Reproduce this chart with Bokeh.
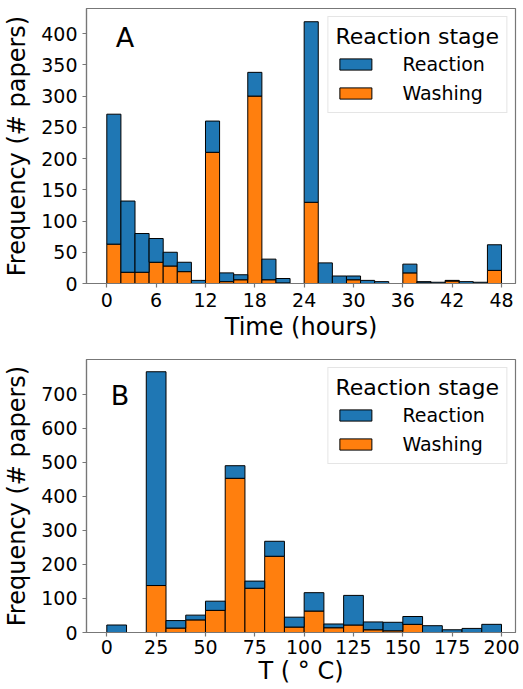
import numpy as np
from bokeh.plotting import figure
from bokeh.layouts import column
from bokeh.models import FixedTicker, Legend, LegendItem, Label
from bokeh.embed import file_html
from bokeh.resources import INLINE

# ---------------- data ----------------
# Panel A: reaction time (hours), 28 bins from 0 to 48
time_bin_min = 0
time_bin_max = 48
time_bin_count = 28
time_washing = [63, 18, 18, 34, 28, 19, 0, 210, 3, 6, 300, 6, 1, 0,
                130, 0, 0, 6, 0, 0, 0, 17, 1, 0, 4, 0, 0, 21]
time_reaction = [208, 114, 62, 38, 22, 15, 5, 50, 14, 8, 38, 33, 7, 0,
                 289, 33, 12, 6, 5, 3, 0, 14, 2, 2, 1, 3, 2, 41]
time_ticks = [0, 6, 12, 18, 24, 30, 36, 42, 48]
time_yticks = [0, 50, 100, 150, 200, 250, 300, 350, 400]

# Panel B: temperature (deg C), 20 bins from 0 to 200
temp_bin_min = 0
temp_bin_max = 200
temp_bin_count = 20
temp_washing = [0, 0, 138, 13, 37, 65, 453, 130, 224, 16,
                63, 14, 22, 8, 5, 24, 0, 0, 0, 0]
temp_reaction = [22, 0, 628, 22, 14, 27, 37, 21, 44, 29,
                 54, 11, 87, 23, 25, 23, 20, 8, 12, 24]
temp_ticks = [0, 25, 50, 75, 100, 125, 150, 175, 200]
temp_yticks = [0, 100, 200, 300, 400, 500, 600, 700]

series_names = ["Reaction", "Washing"]
BLUE = "#1f77b4"
ORANGE = "#ff7f0e"
FONT = "DejaVu Sans"
SPINE = "#777777"


def make_panel(edges_min, edges_max, nbins, washing, reaction, xr, yr,
               xticks, yticks, xlabel, letter, letter_xy, height,
               top_border, label_standoff, xlabel_standoff):
    edges = np.linspace(edges_min, edges_max, nbins + 1)
    wash = np.array(washing, dtype=float)
    reac = np.array(reaction, dtype=float)
    total = wash + reac

    p = figure(width=520, height=height, x_range=xr, y_range=yr,
               output_backend="svg", toolbar_location=None,
               min_border_left=86, min_border_right=5,
               min_border_top=top_border, min_border_bottom=10)
    p.xgrid.visible = False
    p.ygrid.visible = False
    p.outline_line_color = SPINE
    p.outline_line_width = 1.2
    p.background_fill_color = "white"
    p.border_fill_color = "white"

    r_w = p.quad(left=edges[:-1], right=edges[1:], bottom=0, top=wash,
                 fill_color=ORANGE, line_color="black", line_width=1)
    r_r = p.quad(left=edges[:-1], right=edges[1:], bottom=wash, top=total,
                 fill_color=BLUE, line_color="black", line_width=1)

    for ax in (p.xaxis[0], p.yaxis[0]):
        ax.axis_line_color = SPINE
        ax.axis_line_width = 1.2
        ax.major_tick_line_color = SPINE
        ax.major_tick_line_width = 1.2
        ax.major_tick_out = 4
        ax.major_tick_in = 0
        ax.minor_tick_line_color = None
        ax.major_label_text_font = FONT
        ax.major_label_text_font_size = "19px"
        ax.major_label_text_color = "black"
        ax.axis_label_text_font = FONT
        ax.axis_label_text_font_size = "24px"
        ax.axis_label_text_font_style = "normal"
        ax.axis_label_text_color = "black"
    p.xaxis[0].ticker = FixedTicker(ticks=xticks)
    p.yaxis[0].ticker = FixedTicker(ticks=yticks)
    p.xaxis[0].axis_label = xlabel
    p.yaxis[0].axis_label = "Frequency (# papers)"
    p.xaxis[0].major_label_standoff = label_standoff
    p.xaxis[0].axis_label_standoff = xlabel_standoff
    p.yaxis[0].major_label_standoff = 5
    p.yaxis[0].axis_label_standoff = 7

    legend = Legend(items=[LegendItem(label=series_names[0], renderers=[r_r]),
                           LegendItem(label=series_names[1], renderers=[r_w])],
                    title="Reaction stage", location="top_right")
    legend.margin = 8
    legend.padding = 7
    legend.spacing = 5
    legend.glyph_width = 40
    legend.glyph_height = 14
    legend.label_height = 24
    legend.label_standoff = 27
    legend.title_standoff = 3
    legend.title_text_font = FONT
    legend.title_text_font_size = "22px"
    legend.title_text_font_style = "normal"
    legend.title_text_color = "black"
    legend.label_text_font = FONT
    legend.label_text_font_size = "19px"
    legend.label_text_color = "black"
    legend.border_line_color = "#cccccc"
    legend.border_line_width = 1
    legend.background_fill_color = "white"
    legend.background_fill_alpha = 0.8
    p.add_layout(legend)

    p.add_layout(Label(x=letter_xy[0], y=letter_xy[1], text=letter,
                       text_font=FONT, text_font_size="27px",
                       text_baseline="alphabetic", text_color="black"))
    return p


pA = make_panel(time_bin_min, time_bin_max, time_bin_count, time_washing,
                time_reaction, (-2.47, 49.70), (0, 440.2), time_ticks,
                time_yticks, "Time (hours)", "A", (1.1, 393), 343, 8, 5, 3)
pB = make_panel(temp_bin_min, temp_bin_max, temp_bin_count, temp_washing,
                temp_reaction, (-10.29, 207.09), (0, 802), temp_ticks,
                temp_yticks, "T ( \u00b0 C)", "B", (2.0, 696), 344, 16, 3, 0)

layout = column(pA, pB, spacing=0)
open("out.html", "w").write(file_html(layout, INLINE))
